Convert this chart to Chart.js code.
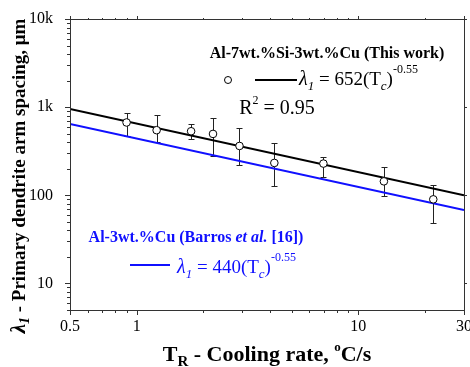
<!DOCTYPE html>
<html>
<head>
<meta charset="utf-8">
<script src="https://cdn.jsdelivr.net/npm/chart.js@4/dist/chart.umd.min.js"></script>
<style>
  html, body { margin:0; padding:0; background:#fff; }
  #wrap { width:470px; height:367px; position:relative; }
</style>
</head>
<body>
<div id="wrap"><canvas id="chart"></canvas></div>
<script>
// measured points, Al-7Si-3Cu
const coolingRate = [0.9, 1.23, 1.76, 2.21, 2.91, 4.18, 6.96, 13.05, 21.8];
const spacing     = [670, 548, 533, 497, 363, 233, 229, 144, 90];
const errHigh     = [861, 811, 641, 756, 582, 397, 272, 212, 130];
const errLow      = [468, 403, 430, 280, 221, 126, 163, 99, 48];

// fit lines (ends of the straight lines in log-log)
const fitX       = [0.5, 30];
const thisFitY   = [955, 100];
const barrosFitY = [644, 68];

const xMajor = [0.5, 1, 10, 30];
const xMinor = [0.6, 0.7, 0.8, 0.9, 2, 3, 4, 5, 6, 7, 8, 9, 20];
const yMajor = [10, 100, 1000, 10000];
const yLabels = {10:'10', 100:'100', 1000:'1k', 10000:'10k'};

const SERIF = "'Liberation Serif', 'Times New Roman', serif";
const BLUE = '#1010ff';

function yMinorList(){
  const out = [];
  [1, 10, 100, 1000].forEach(d => { for(let k=2;k<=9;k++) out.push(k*d); });
  return out.filter(v => v >= 5 && v <= 10000);
}

// draw a run of text pieces {t, f, dy}
function rich(ctx, x, y, segs, align){
  let w = 0;
  segs.forEach(s => { ctx.font = s.f; w += ctx.measureText(s.t).width; });
  let cx = align === 'center' ? x - w/2 : x;
  segs.forEach(s => {
    ctx.font = s.f;
    ctx.fillText(s.t, cx, y + (s.dy||0));
    cx += ctx.measureText(s.t).width;
  });
}

const framePlugin = {
  id:'frame',
  beforeDatasetsDraw(chart){
    const {ctx, scales:{x, y}} = chart;
    // error bars
    ctx.save();
    ctx.strokeStyle = '#222';
    ctx.lineWidth = 1;
    coolingRate.forEach((cr, i) => {
      const px = Math.round(x.getPixelForValue(cr)) + 0.5;
      const top = Math.round(y.getPixelForValue(errHigh[i])) + 0.5;
      const bot = Math.round(y.getPixelForValue(errLow[i])) + 0.5;
      ctx.beginPath();
      ctx.moveTo(px, top); ctx.lineTo(px, bot);
      ctx.moveTo(px-3, top); ctx.lineTo(px+3, top);
      ctx.moveTo(px-3, bot); ctx.lineTo(px+3, bot);
      ctx.stroke();
    });
    ctx.restore();
  },
  afterDraw(chart){
    const {ctx, chartArea:a, scales:{x, y}} = chart;
    ctx.save();
    ctx.strokeStyle = '#333';
    ctx.lineWidth = 1;
    ctx.strokeRect(Math.round(a.left)+0.5, Math.round(a.top)+0.5, Math.round(a.right-a.left), Math.round(a.bottom-a.top));
    ctx.beginPath();
    const xt = (v, len) => {
      const px = Math.round(x.getPixelForValue(v)) + 0.5;
      ctx.moveTo(px, a.bottom); ctx.lineTo(px, a.bottom + len);
      ctx.moveTo(px, a.top); ctx.lineTo(px, a.top - len + 2);
    };
    const yt = (v, len) => {
      const py = Math.round(y.getPixelForValue(v)) + 0.5;
      ctx.moveTo(a.left, py); ctx.lineTo(a.left - len, py);
      ctx.moveTo(a.right, py); ctx.lineTo(a.right + len - 2, py);
    };
    xMajor.forEach(v => xt(v, 5));
    xMinor.forEach(v => xt(v, 3));
    yMajor.forEach(v => yt(v, 5));
    yMinorList().forEach(v => yt(v, 3));
    ctx.stroke();

    // x tick labels
    ctx.fillStyle = '#000';
    ctx.textAlign = 'center';
    ctx.textBaseline = 'alphabetic';
    ctx.font = '16px ' + SERIF;
    xMajor.forEach(v => ctx.fillText(String(v), x.getPixelForValue(v), 331));
    ctx.textAlign = 'left';

    // axis titles
    const tb = 'bold 22px ' + SERIF;
    rich(ctx, 267, 361, [
      {t:'T', f:tb},
      {t:'R', f:'bold 15px ' + SERIF, dy:5},
      {t:' - Cooling rate, ', f:tb},
      {t:'o', f:'bold 13px ' + SERIF, dy:-10},
      {t:'C/s', f:tb}
    ], 'center');

    ctx.save();
    ctx.translate(25, 176);
    ctx.rotate(-Math.PI/2);
    const yb = 'bold 19px ' + SERIF;
    rich(ctx, 0, 0, [
      {t:'\u03bb', f:'italic bold 21px ' + SERIF},
      {t:'1', f:'italic bold 14px ' + SERIF, dy:4},
      {t:' - Primary dendrite arm spacing, \u03bcm', f:yb}
    ], 'center');
    ctx.restore();

    // legend, this work
    rich(ctx, 327, 58, [{t:'Al-7wt.%Si-3wt.%Cu (This work)', f:'bold 16px ' + SERIF}], 'center');
    ctx.beginPath();
    ctx.arc(228, 80, 3.5, 0, Math.PI*2);
    ctx.fillStyle = '#fff'; ctx.fill();
    ctx.strokeStyle = '#000'; ctx.stroke();
    ctx.beginPath();
    ctx.lineWidth = 2;
    ctx.moveTo(255, 80); ctx.lineTo(297, 80);
    ctx.stroke();
    ctx.fillStyle = '#000';
    const rf = '19px ' + SERIF;
    const eq = (coef) => [
      {t:'\u03bb', f:'italic 20px ' + SERIF},
      {t:'1', f:'italic 13px ' + SERIF, dy:5},
      {t:' = ' + coef + '(T', f:rf},
      {t:'c', f:'italic 13px ' + SERIF, dy:5},
      {t:')', f:rf},
      {t:'-0.55', f:'12px ' + SERIF, dy:-12}
    ];
    rich(ctx, 299, 85, eq('652'));
    rich(ctx, 277, 114, [
      {t:'R', f:'20px ' + SERIF},
      {t:'2', f:'12px ' + SERIF, dy:-10},
      {t:' = 0.95', f:'20px ' + SERIF}
    ], 'center');

    // legend, Barros
    ctx.fillStyle = BLUE;
    const bb = 'bold 16px ' + SERIF;
    rich(ctx, 196, 242, [
      {t:'Al-3wt.%Cu (Barros ', f:bb},
      {t:'et al.', f:'italic bold 16px ' + SERIF},
      {t:' [16])', f:bb}
    ], 'center');
    ctx.strokeStyle = BLUE;
    ctx.beginPath();
    ctx.moveTo(130, 265); ctx.lineTo(170, 265);
    ctx.stroke();
    rich(ctx, 177, 273, eq('440'));
    ctx.restore();
  }
};

new Chart(document.getElementById('chart'), {
  type:'scatter',
  data:{
    datasets:[
      {
        label:'Al-7wt.%Si-3wt.%Cu',
        data: coolingRate.map((v,i) => ({x:v, y:spacing[i]})),
        pointStyle:'circle', pointRadius:3.8,
        backgroundColor:'#fff', borderColor:'#000', borderWidth:1
      },
      {
        label:'This work fit', type:'line',
        data: fitX.map((v,i) => ({x:v, y:thisFitY[i]})),
        borderColor:'#000', borderWidth:2, pointRadius:0, fill:false
      },
      {
        label:'Barros fit', type:'line',
        data: fitX.map((v,i) => ({x:v, y:barrosFitY[i]})),
        borderColor:BLUE, borderWidth:2, pointRadius:0, fill:false
      }
    ]
  },
  options:{
    responsive:true, maintainAspectRatio:false, animation:false,
    layout:{ padding:{top:19, right:6, left:0, bottom:0}, autoPadding:false },
    plugins:{ legend:{display:false}, tooltip:{enabled:false} },
    scales:{
      x:{
        type:'logarithmic', min:0.5, max:30,
        grid:{display:false}, border:{display:false},
        afterFit: s => { s.height = 57; },
        ticks:{ display:false }
      },
      y:{
        type:'logarithmic', min:5, max:10000,
        grid:{display:false}, border:{display:false},
        afterBuildTicks: s => { s.ticks = yMajor.map(v => ({value:v})); },
        afterFit: s => { s.width = 70; },
        ticks:{ color:'#000', font:{family:SERIF, size:16}, padding:9, autoSkip:false,
          callback: v => yLabels[v] || '' }
      }
    }
  },
  plugins:[framePlugin]
});
</script>
</body>
</html>
